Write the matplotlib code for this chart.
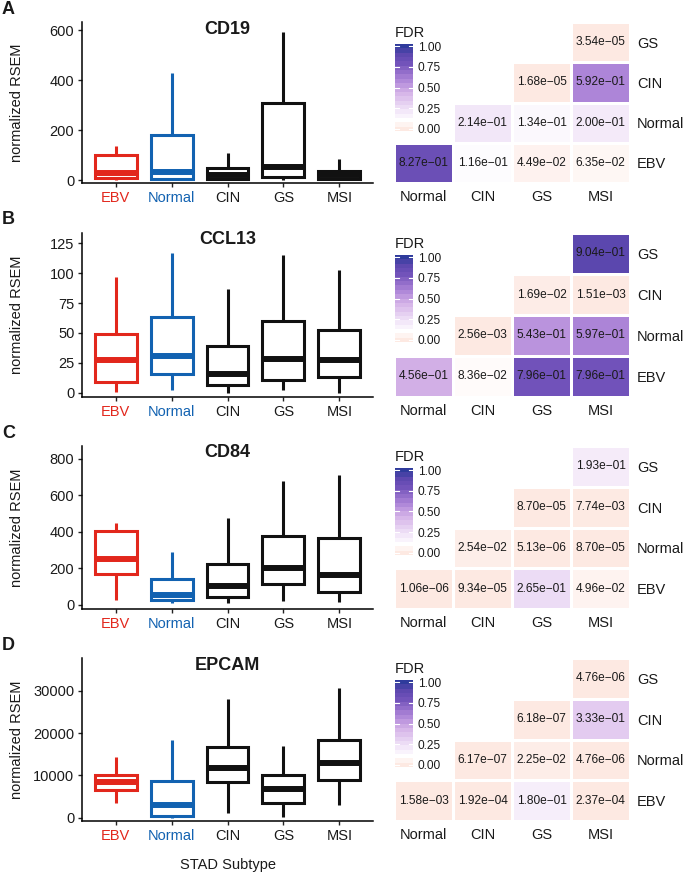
import numpy as np
import matplotlib
matplotlib.use("Agg")
import matplotlib.pyplot as plt
from matplotlib.colors import LinearSegmentedColormap

plt.rcParams['font.family'] = ['Liberation Sans', 'DejaVu Sans']

W, H = 685, 873

subtypes = ['EBV', 'Normal', 'CIN', 'GS', 'MSI']
sub_colors = ['#e2271c', '#1262b1', '#111111', '#111111', '#111111']
genes = ['CD19', 'CCL13', 'CD84', 'EPCAM']
panel_letters = ['A', 'B', 'C', 'D']

# boxplot stats per gene: [EBV, Normal, CIN, GS, MSI]
cd19_lo = [1, 0, 0, 2, 0]
cd19_q1 = [8, 4, 6, 15, 5]
cd19_med = [30, 35, 22, 55, 20]
cd19_q3 = [100, 183, 50, 309, 38]
cd19_hi = [137, 430, 110, 593, 84]

ccl13_lo = [1, 2, 0, 2, 0]
ccl13_q1 = [9, 16, 6.5, 11, 13]
ccl13_med = [27, 31, 15.5, 28.5, 27]
ccl13_q3 = [49.5, 63.5, 39, 60, 52.5]
ccl13_hi = [97, 116.5, 87, 115, 102.5]

cd84_lo = [27, 13, 9, 24, 16]
cd84_q1 = [168, 25, 46, 115, 73]
cd84_med = [252, 52, 106, 201, 164]
cd84_q3 = [407, 144, 223, 380, 369]
cd84_hi = [447, 292, 475, 679, 712]

epcam_lo = [3540, 0, 1020, 240, 2990]
epcam_q1 = [6550, 500, 8350, 3540, 8900]
epcam_med = [8350, 2900, 11800, 6770, 12830]
epcam_q3 = [10080, 8660, 16600, 10080, 18350]
epcam_hi = [14400, 18350, 28100, 17000, 30550]

box_stats = [
    (cd19_lo, cd19_q1, cd19_med, cd19_q3, cd19_hi),
    (ccl13_lo, ccl13_q1, ccl13_med, ccl13_q3, ccl13_hi),
    (cd84_lo, cd84_q1, cd84_med, cd84_q3, cd84_hi),
    (epcam_lo, epcam_q1, epcam_med, epcam_q3, epcam_hi),
]
y_ticks = [[0, 200, 400, 600], [0, 25, 50, 75, 100, 125],
           [0, 200, 400, 600, 800], [0, 10000, 20000, 30000]]
y_lims = [(-11, 634), (-3.6, 133.6), (-22, 871), (-780, 37725)]

# FDR heatmaps, rows top->bottom, cols left->right (nan = empty)
hm_rows = ['GS', 'CIN', 'Normal', 'EBV']
hm_cols = ['Normal', 'CIN', 'GS', 'MSI']
nan = np.nan
fdr_cd19 = [[nan, nan, nan, 3.54e-05],
            [nan, nan, 1.68e-05, 5.92e-01],
            [nan, 2.14e-01, 1.34e-01, 2.00e-01],
            [8.27e-01, 1.16e-01, 4.49e-02, 6.35e-02]]
fdr_ccl13 = [[nan, nan, nan, 9.04e-01],
             [nan, nan, 1.69e-02, 1.51e-03],
             [nan, 2.56e-03, 5.43e-01, 5.97e-01],
             [4.56e-01, 8.36e-02, 7.96e-01, 7.96e-01]]
fdr_cd84 = [[nan, nan, nan, 1.93e-01],
            [nan, nan, 8.70e-05, 7.74e-03],
            [nan, 2.54e-02, 5.13e-06, 8.70e-05],
            [1.06e-06, 9.34e-05, 2.65e-01, 4.96e-02]]
fdr_epcam = [[nan, nan, nan, 4.76e-06],
             [nan, nan, 6.18e-07, 3.33e-01],
             [nan, 6.17e-07, 2.25e-02, 4.76e-06],
             [1.58e-03, 1.92e-04, 1.80e-01, 2.37e-04]]
fdr_all = [fdr_cd19, fdr_ccl13, fdr_cd84, fdr_epcam]

cmap = LinearSegmentedColormap.from_list('fdr', [
    (0.00, '#fde9e2'), (0.10, '#ffffff'), (0.25, '#eedff6'),
    (0.45, '#d3b0e7'), (0.60, '#ab83d7'), (0.80, '#7051b9'),
    (0.90, '#5e48af'), (1.00, '#2f3b9c')])

# panel vertical extents in pixels (top, bottom)
panel_y = [(22, 183), (233, 397), (446, 609), (658, 821)]
letter_y = [9, 220, 433, 645]


def rect(x0, y0, x1, y1):
    return [x0 / W, 1 - y1 / H, (x1 - x0) / W, (y1 - y0) / H]


fig = plt.figure(figsize=(W / 100, H / 100), dpi=100)
txt = '#1a1a1a'

for i in range(4):
    top, bot = panel_y[i]
    ax = fig.add_axes(rect(82, top, 373, bot))
    lo, q1, med, q3, hi = box_stats[i]
    stats = [dict(whislo=lo[k], q1=q1[k], med=med[k], q3=q3[k], whishi=hi[k])
             for k in range(5)]
    bp = ax.bxp(stats, positions=range(1, 6), widths=0.75, showfliers=False,
                showcaps=False, patch_artist=True)
    for k in range(5):
        c = sub_colors[k]
        bp['boxes'][k].set(facecolor='white', edgecolor=c, linewidth=2.2,
                           joinstyle='miter')
        bp['medians'][k].set(color=c, linewidth=4.3, solid_capstyle='butt')
        for w in bp['whiskers'][2 * k:2 * k + 2]:
            w.set(color=c, linewidth=2.2, solid_capstyle='butt')
    ax.set_xlim(0.4, 5.6)
    ax.set_ylim(*y_lims[i])
    ax.set_yticks(y_ticks[i])
    ax.set_xticks(range(1, 6))
    ax.set_xticklabels(subtypes)
    for lab, c in zip(ax.get_xticklabels(), sub_colors):
        lab.set_color(c if c != '#111111' else txt)
    ax.tick_params(labelsize=10.5, length=3, width=1, pad=2.5, colors='#222222',
                   labelcolor=txt)
    for lab, c in zip(ax.get_xticklabels(), sub_colors):
        lab.set_color(c if c != '#111111' else txt)
    for s in ['top', 'right']:
        ax.spines[s].set_visible(False)
    for s in ['left', 'bottom']:
        ax.spines[s].set_linewidth(1.1)
    ax.text(0.5, 1 - 7 / (bot - top), genes[i], transform=ax.transAxes,
            ha='center', va='center', fontsize=13, fontweight='bold', color=txt)
    fig.text(17 / W, 1 - (top + bot) / 2 / H, 'normalized RSEM', rotation=90,
             ha='center', va='center', fontsize=10.5, color=txt)
    fig.text(2 / W, 1 - letter_y[i] / H, panel_letters[i], ha='left',
             va='center', fontsize=13, fontweight='bold', color=txt)

    # heatmap
    hx = fig.add_axes(rect(394, top, 630, bot))
    data = np.ma.masked_invalid(np.array(fdr_all[i])[::-1])
    hx.pcolormesh(np.arange(5), np.arange(5), data, cmap=cmap, vmin=0, vmax=1,
                  edgecolors='white', linewidth=0.8)
    for r in range(4):
        for c in range(4):
            v = data[r, c]
            if v is not np.ma.masked:
                s = '%.2e' % v
                hx.text(c + 0.5, r + 0.5, s.replace('-', '\u2212'), ha='center',
                        va='center', fontsize=8.6, color=txt)
    hx.set_xlim(0, 4)
    hx.set_ylim(0, 4)
    hx.set_xticks(np.arange(4) + 0.5)
    hx.set_xticklabels(hm_cols)
    hx.set_yticks(np.arange(4) + 0.5)
    hx.set_yticklabels(hm_rows[::-1])
    hx.yaxis.tick_right()
    hx.tick_params(length=0, labelsize=10.5, labelcolor=txt, pad=5)
    for s in hx.spines.values():
        s.set_visible(False)

    # colorbar
    cx = fig.add_axes(rect(395, top + 22, 413, top + 109))
    vals = np.linspace(0, 1, 20)
    edges = np.concatenate([[-0.5 / 19], (vals[:-1] + vals[1:]) / 2, [1 + 0.5 / 19]])
    cx.pcolormesh([0, 1], edges, vals.reshape(-1, 1), cmap=cmap, vmin=0, vmax=1)
    for t in [0, 0.25, 0.5, 0.75, 1.0]:
        cx.plot([0, 0.2], [t, t], color='white', lw=0.8)
        cx.plot([0.8, 1], [t, t], color='white', lw=0.8)
    cx.set_xlim(0, 1)
    cx.set_ylim(edges[0], edges[-1])
    cx.set_xticks([])
    cx.yaxis.tick_right()
    cx.set_yticks([0, 0.25, 0.5, 0.75, 1.0])
    cx.set_yticklabels(['0.00', '0.25', '0.50', '0.75', '1.00'])
    cx.tick_params(length=0, labelsize=8.6, labelcolor=txt, pad=3.5)
    for s in cx.spines.values():
        s.set_visible(False)
    fig.text(395 / W, 1 - (top + 11) / H, 'FDR', ha='left', va='center',
             fontsize=10.5, color=txt)

fig.text(227.5 / W, 1 - 865 / H, 'STAD Subtype', ha='center', va='center',
         fontsize=10.5, color=txt)

fig.savefig('out.png', dpi=100)
